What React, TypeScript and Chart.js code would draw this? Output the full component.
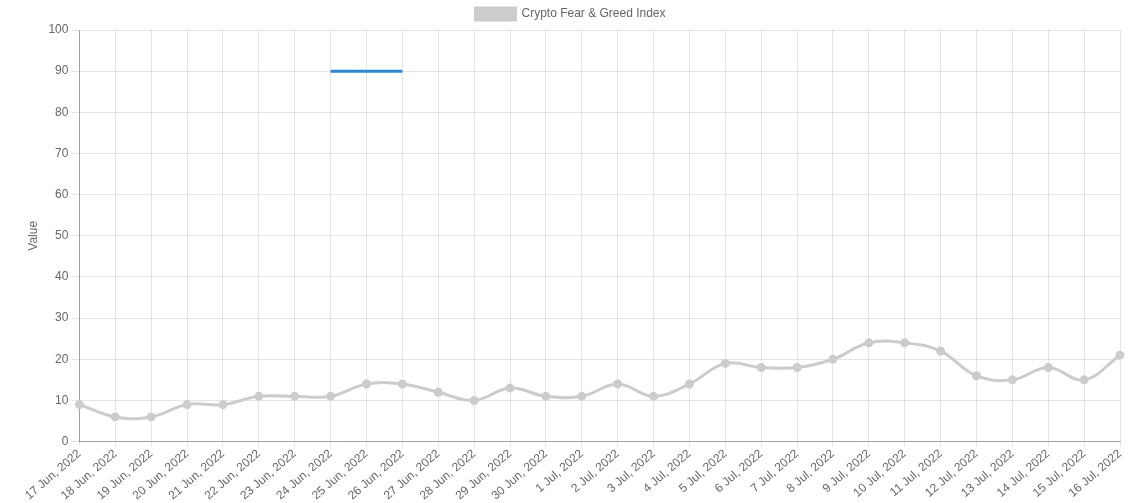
import { useEffect, useRef } from "react";
import { Chart, registerables } from "chart.js";
Chart.register(...registerables);

const dates = [
  "17 Jun, 2022", "18 Jun, 2022", "19 Jun, 2022", "20 Jun, 2022", "21 Jun, 2022",
  "22 Jun, 2022", "23 Jun, 2022", "24 Jun, 2022", "25 Jun, 2022", "26 Jun, 2022",
  "27 Jun, 2022", "28 Jun, 2022", "29 Jun, 2022", "30 Jun, 2022", "1 Jul, 2022",
  "2 Jul, 2022", "3 Jul, 2022", "4 Jul, 2022", "5 Jul, 2022", "6 Jul, 2022",
  "7 Jul, 2022", "8 Jul, 2022", "9 Jul, 2022", "10 Jul, 2022", "11 Jul, 2022",
  "12 Jul, 2022", "13 Jul, 2022", "14 Jul, 2022", "15 Jul, 2022", "16 Jul, 2022",
];

const fearGreed = [
  9, 6, 6, 9, 9, 11, 11, 11, 14, 14, 12, 10, 13, 11, 11,
  14, 11, 14, 19, 18, 18, 20, 24, 24, 22, 16, 15, 18, 15, 21,
];

// short blue marker drawn at 90 over 24-26 Jun
const marker = dates.map((_, i) => (i >= 7 && i <= 9 ? 90 : null));

const FONT = "'Liberation Sans', Arial, sans-serif";

const App = () => {
  const chartRef = useRef<HTMLCanvasElement | null>(null);

  useEffect(() => {
    document.body.style.margin = "0";
    if (chartRef.current) {
      const ctx = chartRef.current.getContext("2d");
      if (ctx) {
        Chart.defaults.font.family = FONT;
        Chart.defaults.color = "#666";
        const chart = new Chart(ctx, {
          type: "line",
          data: {
            labels: dates,
            datasets: [
              {
                label: "Crypto Fear & Greed Index",
                data: fearGreed,
                borderColor: "rgb(204,204,204)",
                backgroundColor: "rgb(204,204,204)",
                borderWidth: 3,
                pointRadius: 3,
                tension: 0.4,
                fill: false,
              },
              {
                label: "marker",
                data: marker,
                borderColor: "#2e86d0",
                backgroundColor: "#2e86d0",
                borderWidth: 3,
                pointRadius: 0,
                tension: 0,
                fill: false,
              },
            ],
          },
          options: {
            animation: false,
            responsive: true,
            maintainAspectRatio: false,
            layout: { padding: { left: 21, right: 25, top: 0, bottom: 0 } },
            plugins: {
              legend: {
                position: "top",
                labels: {
                  boxWidth: 40,
                  boxHeight: 12,
                  padding: 8,
                  font: { size: 12 },
                  filter: (item: any) => item.text !== "marker",
                },
              },
              tooltip: { enabled: false },
            },
            scales: {
              x: {
                grid: { color: "rgba(0,0,0,0.1)", tickLength: 5 },
                border: { color: "rgba(0,0,0,0.3)" },
                ticks: { minRotation: 41, maxRotation: 41, font: { size: 12 }, padding: 0 },
              },
              y: {
                min: 0,
                max: 100,
                grid: { color: "rgba(0,0,0,0.1)", tickLength: 8 },
                border: { color: "rgba(0,0,0,0.3)" },
                ticks: { stepSize: 10, font: { size: 12 }, padding: 3 },
                title: { display: true, text: "Value", font: { size: 12 }, padding: 5 },
              },
            },
          },
        });
        return () => chart.destroy();
      }
    }
  }, []);

  return (
    <div style={{ position: "relative", width: "1145px", height: "503px" }}>
      <canvas ref={chartRef}></canvas>
    </div>
  );
};

export default App;
